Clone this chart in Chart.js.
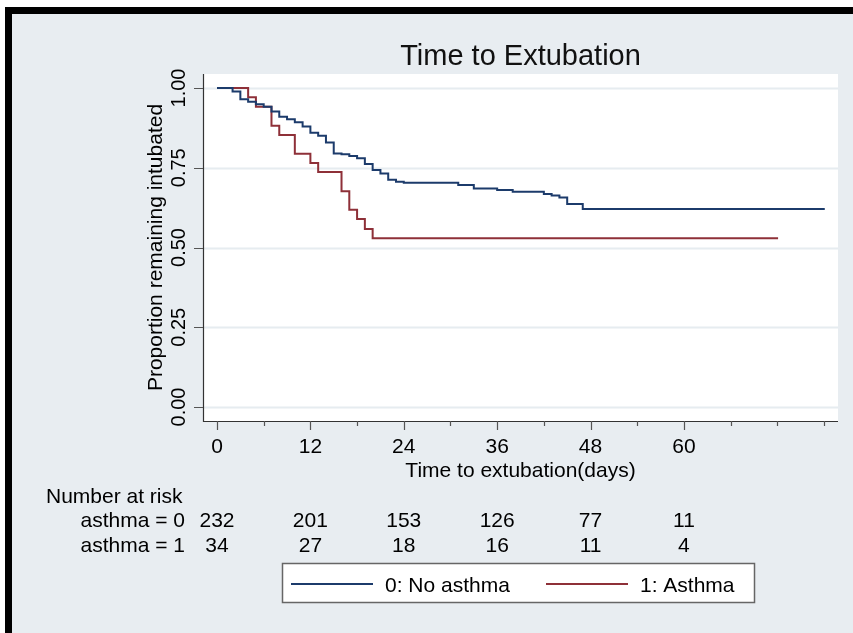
<!DOCTYPE html>
<html>
<head>
<meta charset="utf-8">
<script src="https://cdn.jsdelivr.net/npm/chart.js@4.4.1/dist/chart.umd.min.js"></script>
<style>
  body { margin: 0; background: #fff; }
  canvas { display: block; }
</style>
</head>
<body>
<canvas id="kmChart" width="853" height="633"></canvas>
<script>
// Kaplan-Meier estimates
var noAsthmaDays = [0, 2, 3, 4, 5, 6, 7, 8, 9, 10, 11, 12, 13, 14, 15, 16, 17, 18, 19, 20, 21, 22, 23, 24, 31, 33, 36, 38, 42, 43, 44, 45, 47, 78.1];
var noAsthmaSurv = [1, 0.989, 0.965, 0.957, 0.949, 0.941, 0.926, 0.910, 0.902, 0.893, 0.879, 0.860, 0.850, 0.829, 0.795, 0.792, 0.787, 0.780, 0.762, 0.743, 0.732, 0.712, 0.706, 0.703, 0.696, 0.685, 0.680, 0.675, 0.668, 0.663, 0.657, 0.636, 0.621, 0.621];
var asthmaDays = [0, 4, 5, 7, 8, 10, 12, 13, 16, 17, 18, 19, 20, 72.1];
var asthmaSurv = [1, 0.971, 0.941, 0.882, 0.853, 0.794, 0.765, 0.737, 0.676, 0.618, 0.589, 0.558, 0.529, 0.529];

var xMajorTicks = [0, 12, 24, 36, 48, 60];
var xMinorTicks = [6, 18, 30, 42, 54, 66, 72, 78];
var yTicks = [0, 0.25, 0.5, 0.75, 1];
var yTickLabels = ["0.00", "0.25", "0.50", "0.75", "1.00"];

var riskTimes = [0, 12, 24, 36, 48, 60];
var riskNoAsthma = [232, 201, 153, 126, 77, 11];
var riskAsthma = [34, 27, 18, 16, 11, 4];

var seriesLabels = ["0: No asthma", "1: Asthma"];
var seriesColors = ["#1c3b6b", "#8e3038"];

var FONT = '"Liberation Sans", Arial, sans-serif';

function toPoints(days, surv) {
    var pts = [];
    for (var i = 0; i < days.length; i++) {
        pts.push({ x: days[i], y: surv[i] });
    }
    return pts;
}

var stataLook = {
    id: "stataLook",
    beforeDraw: function(chart) {
        var ctx = chart.ctx, a = chart.chartArea;
        ctx.save();
        ctx.fillStyle = "#ffffff";
        ctx.fillRect(0, 0, chart.width, chart.height);
        ctx.fillStyle = "#e8edf1";
        ctx.fillRect(5, 7, chart.width - 5, chart.height - 7);
        // frame bars on top and left
        ctx.fillStyle = "#000000";
        ctx.fillRect(5, 7, chart.width - 5, 7);
        ctx.fillRect(5, 7, 7, chart.height - 7);
        ctx.fillStyle = "#ffffff";
        ctx.fillRect(a.left, a.top, a.right - a.left, a.bottom - a.top);
        ctx.restore();
    },
    beforeDatasetsDraw: function(chart) {
        var ctx = chart.ctx, a = chart.chartArea, ys = chart.scales.y;
        ctx.save();
        ctx.strokeStyle = "#e6ecf0";
        ctx.lineWidth = 2;
        yTicks.forEach(function(v) {
            var py = Math.round(ys.getPixelForValue(v)) + 0.5;
            ctx.beginPath();
            ctx.moveTo(a.left, py);
            ctx.lineTo(a.right, py);
            ctx.stroke();
        });
        ctx.restore();
    },
    afterDatasetsDraw: function(chart) {
        var ctx = chart.ctx, a = chart.chartArea;
        var xs = chart.scales.x, ys = chart.scales.y;
        ctx.save();

        // axes
        ctx.strokeStyle = "#333333";
        ctx.lineWidth = 1.2;
        ctx.beginPath();
        ctx.moveTo(a.left + 0.5, a.top);
        ctx.lineTo(a.left + 0.5, a.bottom + 0.5);
        ctx.lineTo(a.right, a.bottom + 0.5);
        ctx.stroke();

        ctx.strokeStyle = "#555555";
        ctx.beginPath();
        yTicks.forEach(function(v) {
            var py = Math.round(ys.getPixelForValue(v)) + 0.5;
            ctx.moveTo(a.left - 9, py);
            ctx.lineTo(a.left, py);
        });
        xMajorTicks.forEach(function(v) {
            var px = Math.round(xs.getPixelForValue(v)) + 0.5;
            ctx.moveTo(px, a.bottom);
            ctx.lineTo(px, a.bottom + 9);
        });
        xMinorTicks.forEach(function(v) {
            var px = Math.round(xs.getPixelForValue(v)) + 0.5;
            ctx.moveTo(px, a.bottom);
            ctx.lineTo(px, a.bottom + 5);
        });
        ctx.stroke();

        ctx.fillStyle = "#000000";

        // y tick labels, turned on their side
        ctx.font = "20px " + FONT;
        ctx.textAlign = "center";
        ctx.textBaseline = "alphabetic";
        yTicks.forEach(function(v, i) {
            ctx.save();
            ctx.translate(a.left - 18, ys.getPixelForValue(v));
            ctx.rotate(-Math.PI / 2);
            ctx.fillText(yTickLabels[i], 0, 0);
            ctx.restore();
        });

        ctx.font = "21px " + FONT;
        ctx.save();
        ctx.translate(162, (a.top + a.bottom) / 2);
        ctx.rotate(-Math.PI / 2);
        ctx.fillText("Proportion remaining intubated", 0, 0);
        ctx.restore();

        // x tick labels + title
        xMajorTicks.forEach(function(v) {
            ctx.fillText(String(v), xs.getPixelForValue(v), 453);
        });
        var mid = (a.left + a.right) / 2;
        ctx.fillText("Time to extubation(days)", mid, 477);

        ctx.font = "29px " + FONT;
        ctx.fillStyle = "#111111";
        ctx.fillText("Time to Extubation", mid, 65);

        // number at risk table
        ctx.fillStyle = "#000000";
        ctx.font = "21px " + FONT;
        ctx.textAlign = "left";
        ctx.fillText("Number at risk", 46, 503);
        ctx.textAlign = "right";
        ctx.fillText("asthma = 0", 185, 527);
        ctx.fillText("asthma = 1", 185, 552);
        ctx.textAlign = "center";
        riskTimes.forEach(function(t, i) {
            var px = xs.getPixelForValue(t);
            ctx.fillText(String(riskNoAsthma[i]), px, 527);
            ctx.fillText(String(riskAsthma[i]), px, 552);
        });

        // legend box
        ctx.fillStyle = "#ffffff";
        ctx.fillRect(282, 563, 473, 40);
        ctx.strokeStyle = "#666666";
        ctx.lineWidth = 1.5;
        ctx.strokeRect(282.5, 563.5, 472, 39);
        var keyX = [291, 546];
        chart.data.datasets.forEach(function(ds, i) {
            ctx.strokeStyle = ds.borderColor;
            ctx.lineWidth = 2;
            ctx.beginPath();
            ctx.moveTo(keyX[i], 584);
            ctx.lineTo(keyX[i] + 82, 584);
            ctx.stroke();
            ctx.fillStyle = "#000000";
            ctx.textAlign = "left";
            ctx.fillText(ds.label, keyX[i] + 94, 592);
        });

        ctx.restore();
    }
};

new Chart(document.getElementById("kmChart"), {
    type: "line",
    data: {
        datasets: [
            {
                label: seriesLabels[0],
                data: toPoints(noAsthmaDays, noAsthmaSurv),
                borderColor: seriesColors[0],
                borderWidth: 2,
                stepped: true,
                pointRadius: 0,
                fill: false
            },
            {
                label: seriesLabels[1],
                data: toPoints(asthmaDays, asthmaSurv),
                borderColor: seriesColors[1],
                borderWidth: 2,
                stepped: true,
                pointRadius: 0,
                fill: false
            }
        ]
    },
    options: {
        responsive: false,
        animation: false,
        devicePixelRatio: 1,
        layout: { padding: { left: 203, right: 15, top: 74, bottom: 212 } },
        scales: {
            x: { type: "linear", display: false, min: -1.8, max: 79.8 },
            y: { type: "linear", display: false, min: -0.0439, max: 1.0439 }
        },
        plugins: {
            legend: { display: false },
            tooltip: { enabled: false }
        }
    },
    plugins: [stataLook]
});
</script>
</body>
</html>
